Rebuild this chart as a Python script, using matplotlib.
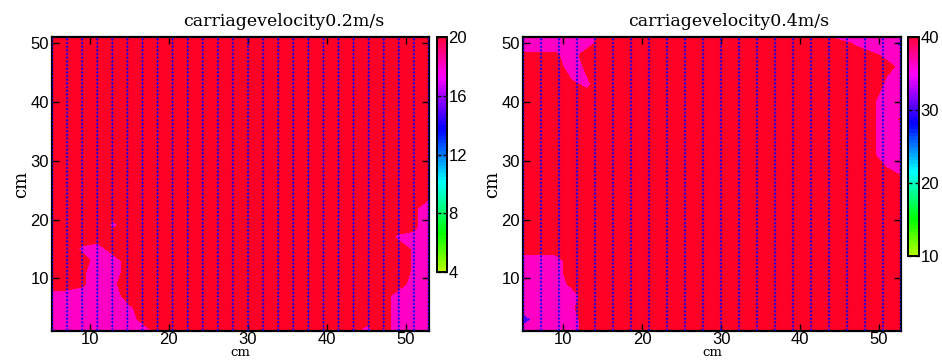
import matplotlib
matplotlib.use("Agg")
import matplotlib.pyplot as plt
import numpy as np
from matplotlib.colors import ListedColormap, Normalize
from matplotlib.cm import ScalarMappable

# coarse grid nodes (cm) for the value maps
x_nodes = [4.9, 7, 9, 11, 13, 15, 17, 19, 23, 27, 31, 35, 39, 43, 45, 47, 49, 51, 53]
y_nodes = [1, 3, 5, 7, 9, 11, 13, 15, 17, 19, 22, 25, 28, 31, 34, 37, 40, 43, 46, 48, 50, 51.1]

# value of each map character
codes_02 = {"R": 19.5, "q": 19.0, "p": 18.5, "P": 18.0, "B": 14.0}
codes_04 = {"R": 39.0, "q": 38.0, "p": 37.0, "P": 36.0, "B": 28.0}

# rows from bottom (y=1) to top (y=51), one character per x node
map_02 = [
    "PPPPPPPRRRRRRRPRPPP",
    "PPPPPPRRRRRRRRRRPPP",
    "PPPPPpRRRRRRRRRRPPP",
    "PPPPPRRRRRRRRRRRPPP",
    "RRqPpRRRRRRRRRRRRPP",
    "RRqPPRRRRRRRRRRRRpP",
    "RRRPPRRRRRRRRRRRRpP",
    "RRpPRRRRRRRRRRRRRpP",
    "RRRRRRRRRRRRRRRRppP",
    "RRRRpRRRRRRRRRRRRqP",
    "RRRRRRRRRRRRRRRRRqP",
    "RRRRRRRRRRRRRRRRRRR",
    "RRRRRRRRRRRRRRRRRRR",
    "RRRRRRRRRRRRRRRRRRR",
    "RRRRRRRRRRRRRRRRRRR",
    "RRRRRRRRRRRRRRRRRRR",
    "RRRRRRRRRRRRRRRRRRR",
    "RRRRRRRRRRRRRRRRRRR",
    "RRRRRRRRRRRRRRRRRRR",
    "RRRRRRRRRRRRRRRRRRR",
    "RRRRRRRRRRRRRRRRRRR",
    "RRRRRRRRRRRRRRRRRRR",
]

map_04 = [
    "PPPPRRRRRRRRRRRRRRR",
    "BPPPRRRRRRRRRRRRRRR",
    "PPPpRRRRRRRRRRRRRRR",
    "PPPPRRRRRRRRRRRRRRR",
    "PPPqRRRRRRRRRRRRRRR",
    "PPPRRRRRRRRRRRRRRRR",
    "PPPRRRRRRRRRRRRRRRR",
    "RRRRRRRRRRRRRRRRRRR",
    "RRRRRRRRRRRRRRRRRRR",
    "RRRRRRRRRRRRRRRRRRR",
    "RRRRRRRRRRRRRRRRRRR",
    "RRRRRRRRRRRRRRRRRRR",
    "RRRRRRRRRRRRRRRRRqp",
    "RRRRRRRRRRRRRRRRqPP",
    "RRRRRRRRRRRRRRRRqPP",
    "RRRRRRRRRRRRRRRRqPq",
    "RRRRRRRRRRRRRRRRqPP",
    "RRRqpRRRRRRRRRRRRpP",
    "RRRPqRRRRRRRRRRRRqp",
    "qqqPRRRRRRRRRRRRqpP",
    "PPPPPRRRRRRRRRRpPPB",
    "PPPPPRRRRRRRRqPPPPP",
]

# measurement columns of the velocity arrows: (first x, last x, count)
cols_02 = (5.23, 52.9, 26)
cols_04 = (4.9, 52.78, 22)
rows_y = (1.03, 51.07, 81)

titles = ["carriagevelocity0.2m/s", "carriagevelocity0.4m/s"]
cbar_ranges = [(4, 20), (10, 40)]
cbar_ticks = [[4, 8, 12, 16, 20], [10, 20, 30, 40]]
xlims = [(5.23, 52.9), (4.9, 52.78)]
ylim = (1.03, 51.07)

cmap = ListedColormap(plt.cm.hsv(np.linspace(0.22, 0.97, 64)))
fill_colors = ["#5000ff", "#ff00c4", "#ff0026"]

plt.rcParams['font.family'] = 'Liberation Sans'
plt.rcParams['font.size'] = 12

fig = plt.figure(figsize=(9.42, 3.6), dpi=100)
ax_pos = [[0.0552, 0.0806, 0.4002, 0.8167], [0.5552, 0.0806, 0.4013, 0.8167]]
cb_pos = [[0.4639, 0.2444, 0.0106, 0.6528], [0.9639, 0.2889, 0.0117, 0.6083]]
title_x = [0.615, 0.545]

maps = [map_02, map_04]
codes = [codes_02, codes_04]
cols = [cols_02, cols_04]

for i in range(2):
    ax = fig.add_axes(ax_pos[i])
    Z = np.array([[codes[i][c] for c in row] for row in maps[i]])
    lo, hi = cbar_ranges[i]
    thr = (codes[i]["q"] + codes[i]["p"]) / 2
    levels = [lo, (codes[i]["B"] + codes[i]["P"]) / 2, thr, hi + 1]
    ax.contourf(x_nodes, y_nodes, Z, levels=levels, colors=fill_colors)

    xq = np.linspace(*cols[i])
    yq = np.linspace(*rows_y)
    X, Y = np.meshgrid(xq, yq)
    ax.quiver(X, Y, np.zeros_like(X), np.full_like(Y, 0.5), color='#0000ff',
              angles='xy', scale_units='xy', scale=1, width=0.002,
              headwidth=4, headlength=3, headaxislength=2.8, zorder=3)

    ax.set_xlim(xlims[i])
    ax.set_ylim(ylim)
    ax.set_xticks([10, 20, 30, 40, 50])
    ax.set_yticks([10, 20, 30, 40, 50])
    ax.tick_params(direction='in', top=True, right=True, length=5, width=1, pad=2)
    ax.tick_params(axis='x', pad=1)
    for s in ax.spines.values():
        s.set_linewidth(1.6)
    ax.set_title(titles[i], x=title_x[i], pad=8, fontsize=12.5, family='DejaVu Serif')
    ax.set_xlabel('cm', family='DejaVu Serif', fontsize=9.5, va='bottom')
    ax.xaxis.set_label_coords(0.5, -0.096)
    ax.set_ylabel('cm', family='DejaVu Serif', fontsize=13, labelpad=0)

    cax = fig.add_axes(cb_pos[i])
    sm = ScalarMappable(norm=Normalize(lo, hi), cmap=cmap)
    cb = fig.colorbar(sm, cax=cax, ticks=cbar_ticks[i])
    cb.ax.tick_params(direction='in', length=3, width=1, pad=1, left=True, right=True)
    cb.outline.set_linewidth(1.4)

plt.savefig("out.png", dpi=100)
plt.close()
